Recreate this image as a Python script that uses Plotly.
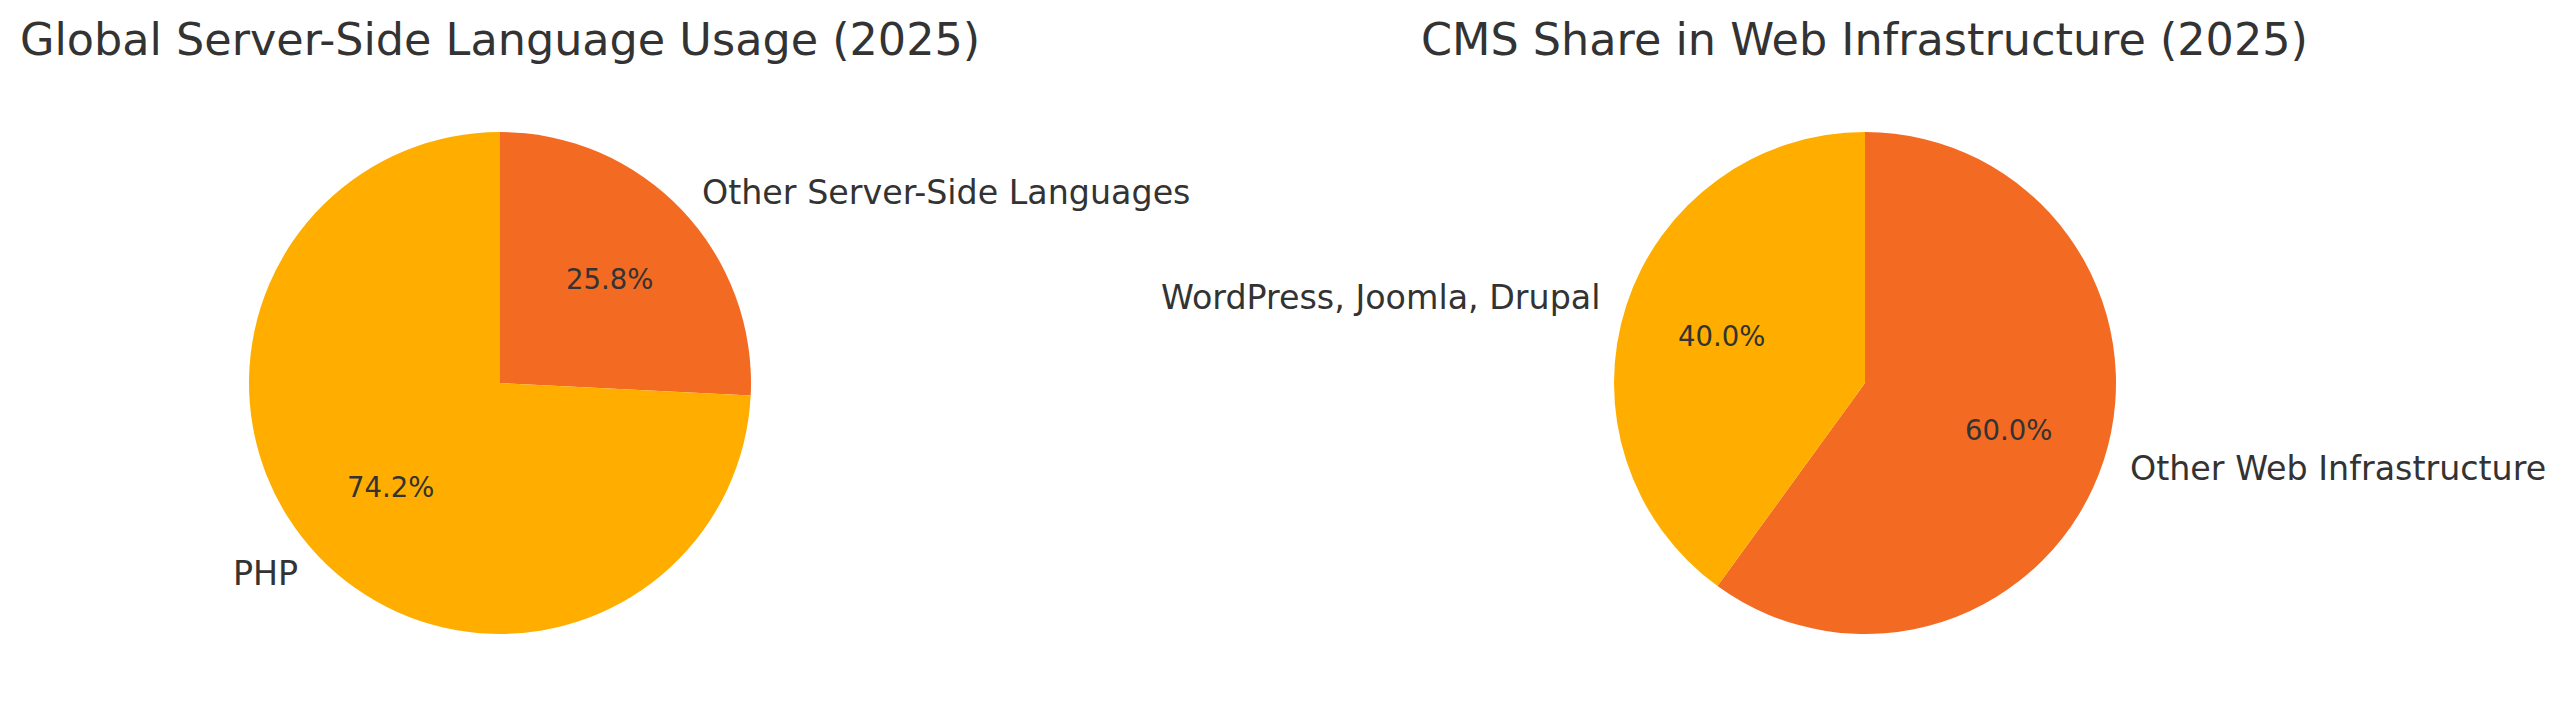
import math
import plotly.graph_objects as go

# data
lang_labels = ["PHP", "Other Server-Side Languages"]
lang_values = [74.2, 25.8]
cms_labels = ["WordPress, Joomla, Drupal", "Other Web Infrastructure"]
cms_values = [40.0, 60.0]
slice_colors = ["#FFAE00", "#F36A22"]
titles = ["Global Server-Side Language Usage (2025)", "CMS Share in Web Infrastructure (2025)"]

PAGE_OFF = 8        # default body margin of the html page
W, H = 2563 - PAGE_OFF, 717 - PAGE_OFF
R = 251             # pie radius, px
CY = 383 - PAGE_OFF # pie centre from top, px
centers_x = [500 - PAGE_OFF, 1865 - PAGE_OFF]
text_col = "#333333"
font_name = "DejaVu Sans"

fig = go.Figure()
annots = []

for k, (labs, vals) in enumerate([(lang_labels, lang_values), (cms_labels, cms_values)]):
    cx = centers_x[k]
    # plotly goes clockwise from 12 o'clock; feed reversed order so the
    # first slice runs counterclockwise from the top like the original
    fig.add_trace(go.Pie(
        labels=labs[::-1],
        values=vals[::-1],
        sort=False,
        direction="clockwise",
        rotation=0,
        textinfo="none",
        marker=dict(colors=slice_colors[::-1], line=dict(width=0)),
        domain=dict(x=[(cx - R) / W, (cx + R) / W],
                    y=[(H - CY - R) / H, (H - CY + R) / H]),
        showlegend=False,
        hovertemplate="%{label}: %{percent}<extra></extra>",
    ))

    # matplotlib style text: label at 1.1r, percent at 0.6r (counterclockwise from top)
    px0 = cx / W
    py0 = (H - CY) / H
    total = sum(vals)
    cum = 0
    for lab, v in zip(labs, vals):
        theta = math.radians(90 + 360 * (cum + v / 2) / total)
        cum += v
        c, s = math.cos(theta), math.sin(theta)
        annots.append(dict(
            x=px0 + 1.1 * R * c / W, y=py0 + 1.1 * R * s / H,
            xref="paper", yref="paper", text=lab, showarrow=False,
            xanchor="left" if c > 0 else "right", yanchor="middle",
            font=dict(size=33.3, color=text_col, family=font_name),
        ))
        annots.append(dict(
            x=px0 + 0.6 * R * c / W, y=py0 + 0.6 * R * s / H,
            xref="paper", yref="paper", text="{:.1f}%".format(v / total * 100),
            showarrow=False, xanchor="center", yanchor="middle",
            font=dict(size=27.5, color=text_col, family=font_name),
        ))

    annots.append(dict(
        x=px0, y=1 - 31 / H, xref="paper", yref="paper", text=titles[k],
        showarrow=False, xanchor="center", yanchor="middle",
        font=dict(size=44.5, color=text_col, family=font_name),
    ))

fig.update_layout(
    width=W, height=H,
    margin=dict(l=0, r=0, t=0, b=0),
    paper_bgcolor="white",
    plot_bgcolor="white",
    annotations=annots,
    font=dict(family=font_name, color=text_col),
)

fig.write_html("out.html")
